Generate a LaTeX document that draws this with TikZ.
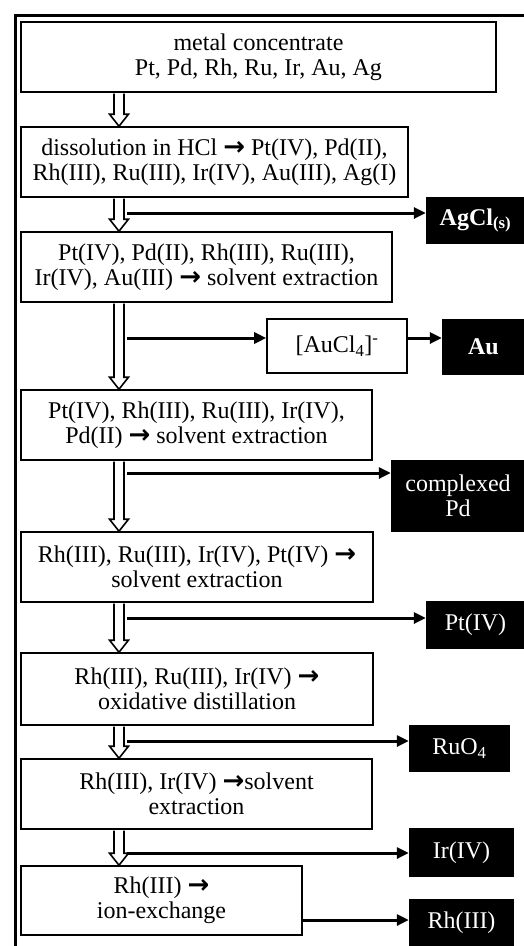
\documentclass[tikz,border=0pt]{standalone}
\usepackage{fontspec}
\setmainfont{Liberation Serif}
\newfontfamily\arrowfont{DejaVu Sans}
\usetikzlibrary{arrows.meta,calc}
\newcommand{\rarr}{{\arrowfont\bfseries\fontsize{26}{25}\selectfont\char"2192}}
\newcommand{\hollowarrow}[2]{%
  \draw[hollow] ($(#1.south -| cx)+(-5pt,-0.8pt)$) -- ($(#2.north -| cx)+(-5pt,12pt)$)
    -- ($(#2.north -| cx)+(-9.5pt,12pt)$) -- (#2.north -| cx)
    -- ($(#2.north -| cx)+(9.5pt,12pt)$) -- ($(#2.north -| cx)+(5pt,12pt)$)
    -- ($(#1.south -| cx)+(5pt,-0.8pt)$);}
\begin{document}
\begin{tikzpicture}[x=1pt,y=-1pt,
  stage/.style={draw, line width=1.6pt, align=center, inner sep=0pt,
    font=\fontsize{24}{25}\selectfont},
  product/.style={fill=black, text=white, align=center, inner sep=0pt,
    font=\fontsize{24}{25}\selectfont},
  side/.style={line width=3pt, -{Triangle[length=12pt,width=11pt]}},
  hollow/.style={draw, fill=white, line width=1.6pt, line join=miter}]
\useasboundingbox (0,0) rectangle (524,946);
\fill[white] (0,0) rectangle (524,946);
\draw[line width=3pt] (15,950) -- (15,15) -- (530,15);
\coordinate (cx) at (119,0);
% process boxes
\node[stage, minimum width=475pt, minimum height=70pt] (b1) at (258.5,57)
  {metal concentrate\\Pt, Pd, Rh, Ru, Ir, Au, Ag};
\node[stage, minimum width=387pt, minimum height=70pt] (b2) at (214.5,162)
  {dissolution in HCl \rarr{} Pt(IV), Pd(II),\\Rh(III), Ru(III), Ir(IV), Au(III), Ag(I)};
\node[stage, minimum width=371pt, minimum height=70pt] (b3) at (206.5,267)
  {Pt(IV), Pd(II), Rh(III), Ru(III),\\Ir(IV), Au(III) \rarr{} solvent extraction};
\node[stage, minimum width=140pt, minimum height=54pt] (aucl) at (337,346)
  {[AuCl\textsubscript{4}]\textsuperscript{-}};
\node[stage, minimum width=351pt, minimum height=70pt] (b4) at (196.5,425)
  {Pt(IV), Rh(III), Ru(III), Ir(IV),\\Pd(II) \rarr{} solvent extraction};
\node[stage, minimum width=352pt, minimum height=70pt] (b5) at (197,567)
  {Rh(III), Ru(III), Ir(IV), Pt(IV) \rarr\\solvent extraction};
\node[stage, minimum width=352pt, minimum height=72pt] (b6) at (197,689)
  {Rh(III), Ru(III), Ir(IV) \rarr\\oxidative distillation};
\node[stage, minimum width=351pt, minimum height=70pt] (b7) at (196.5,794)
  {Rh(III), Ir(IV) \rarr solvent\\extraction};
\node[stage, minimum width=281pt, minimum height=69pt] (b8) at (161.5,900.5)
  {Rh(III) \rarr\\ion-exchange};
% products
\node[product, minimum width=99pt, minimum height=47pt] (ag) at (475.5,220.5)
  {\bfseries AgCl\textsubscript{(s)}};
\node[product, minimum width=83pt, minimum height=56pt] (au) at (483.5,347)
  {\bfseries Au};
\node[product, minimum width=134pt, minimum height=72pt] (pd) at (458,496)
  {complexed\\Pd};
\node[product, minimum width=99pt, minimum height=48pt] (pt) at (475.5,625)
  {Pt(IV)};
\node[product, minimum width=101pt, minimum height=47pt] (ru) at (459.5,748.5)
  {RuO\textsubscript{4}};
\node[product, minimum width=105pt, minimum height=49pt] (ir) at (461.5,852.5)
  {Ir(IV)};
\node[product, minimum width=105pt, minimum height=48pt] (rh) at (461.5,923)
  {Rh(III)};
% hollow main-flow arrows
\hollowarrow{b1}{b2}
\hollowarrow{b2}{b3}
\hollowarrow{b3}{b4}
\hollowarrow{b4}{b5}
\hollowarrow{b5}{b6}
\hollowarrow{b6}{b7}
\hollowarrow{b7}{b8}
% side arrows
\coordinate (s1) at (127,213);
\coordinate (s2) at (127,338);
\coordinate (s3) at (127,473);
\coordinate (s4) at (127,618);
\coordinate (s5) at (127,741);
\coordinate (s6) at (127,853);
\coordinate (s7) at (302,920);
\draw[side] (s1) -- (s1 -| ag.west);
\draw[side] (s2) -- (s2 -| aucl.west);
\draw[side] (aucl.east |- s2) -- (au.west |- s2);
\draw[side] (s3) -- (s3 -| pd.west);
\draw[side] (s4) -- (s4 -| pt.west);
\draw[side] (s5) -- (s5 -| ru.west);
\draw[side] (s6) -- (s6 -| ir.west);
\draw[side] (b8.east |- s7) -- (s7 -| rh.west);
\end{tikzpicture}
\end{document}
